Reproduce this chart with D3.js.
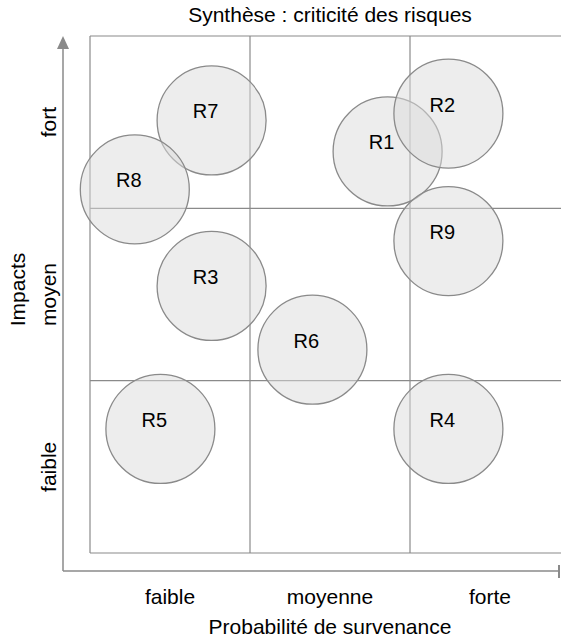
<!DOCTYPE html>
<html lang="fr">
<head>
    <meta charset="UTF-8">
    <title>Synthèse : criticité des risques</title>
    <script src="https://d3js.org/d3.v7.min.js"></script>
    <style>
        body {
            margin: 0;
            background: #fff;
            font-family: "Liberation Sans", Arial, Helvetica, sans-serif;
        }
        svg text {
            fill: #000;
        }
    </style>
</head>
<body>
    <div id="chart"></div>

    <script>
        // Data
        const risks = ["R1", "R2", "R3", "R4", "R5", "R6", "R7", "R8", "R9"];
        const probability = [1.86, 2.24, 0.76, 2.24, 0.44, 1.39, 0.76, 0.28, 2.24];
        const impact = [2.33, 2.55, 1.55, 0.72, 0.72, 1.18, 2.51, 2.11, 1.81];
        const xLevels = ["faible", "moyenne", "forte"];
        const yLevels = ["faible", "moyen", "fort"];
        const gridBreaks = [0, 1, 2, 3];

        const W = 561, H = 638;
        const gray = "#8a8a8a";

        const svg = d3.select("#chart")
            .append("svg")
            .attr("width", W)
            .attr("height", H);

        // Scales: three levels on each axis
        const x = d3.scaleLinear().domain([0, 3]).range([90, 570]);
        const y = d3.scaleLinear().domain([0, 3]).range([553, 36]);
        const r = 54.5;

        // Title
        svg.append("text")
            .attr("x", x(1.5))
            .attr("y", 22)
            .attr("text-anchor", "middle")
            .style("font-size", "21px")
            .text("Synthèse : criticité des risques");

        // Grid
        const grid = svg.append("g");
        grid.selectAll(".vline")
            .data(gridBreaks)
            .enter()
            .append("line")
            .attr("x1", d => x(d)).attr("x2", d => x(d))
            .attr("y1", y(0)).attr("y2", y(3))
            .attr("stroke", gray)
            .attr("stroke-width", 1.2);
        grid.selectAll(".hline")
            .data(gridBreaks)
            .enter()
            .append("line")
            .attr("x1", x(0)).attr("x2", x(3))
            .attr("y1", d => y(d)).attr("y2", d => y(d))
            .attr("stroke", gray)
            .attr("stroke-width", 1.2);

        // Axes with arrow on y and end tick on x
        const axisX = 63, axisY = 571;
        svg.append("line")
            .attr("x1", axisX).attr("x2", axisX)
            .attr("y1", axisY).attr("y2", 48)
            .attr("stroke", gray).attr("stroke-width", 1.5);
        svg.append("path")
            .attr("d", `M${axisX - 6},49 L${axisX},36 L${axisX + 6},49 Z`)
            .attr("fill", gray);
        svg.append("line")
            .attr("x1", axisX).attr("x2", 559)
            .attr("y1", axisY).attr("y2", axisY)
            .attr("stroke", gray).attr("stroke-width", 1.5);
        svg.append("line")
            .attr("x1", 559).attr("x2", 559)
            .attr("y1", axisY - 6).attr("y2", axisY + 7)
            .attr("stroke", gray).attr("stroke-width", 2);

        // Level labels
        svg.selectAll(".xlab")
            .data(xLevels)
            .enter()
            .append("text")
            .attr("x", (d, i) => x(i + 0.5))
            .attr("y", 604)
            .attr("text-anchor", "middle")
            .style("font-size", "21px")
            .text(d => d);

        svg.selectAll(".ylab")
            .data(yLevels)
            .enter()
            .append("text")
            .attr("transform", (d, i) => `translate(56, ${y(i + 0.5)}) rotate(-90)`)
            .attr("text-anchor", "middle")
            .style("font-size", "21px")
            .text(d => d);

        // Axis titles
        svg.append("text")
            .attr("x", x(1.5))
            .attr("y", 634)
            .attr("text-anchor", "middle")
            .style("font-size", "21px")
            .text("Probabilité de survenance");

        svg.append("text")
            .attr("transform", `translate(25, ${y(1.5) - 5}) rotate(-90)`)
            .attr("text-anchor", "middle")
            .style("font-size", "21px")
            .text("Impacts");

        // Risk bubbles
        const bubbles = svg.selectAll(".risk")
            .data(risks)
            .enter()
            .append("g")
            .attr("class", "risk")
            .attr("transform", (d, i) => `translate(${x(probability[i])}, ${y(impact[i])})`);

        bubbles.append("circle")
            .attr("r", r)
            .attr("fill", "#dcdcdc")
            .attr("fill-opacity", 0.5)
            .attr("stroke", gray)
            .attr("stroke-width", 1.3);

        bubbles.append("text")
            .attr("x", -6)
            .attr("y", -2)
            .attr("text-anchor", "middle")
            .style("font-size", "20px")
            .text(d => d);
    </script>
</body>
</html>
